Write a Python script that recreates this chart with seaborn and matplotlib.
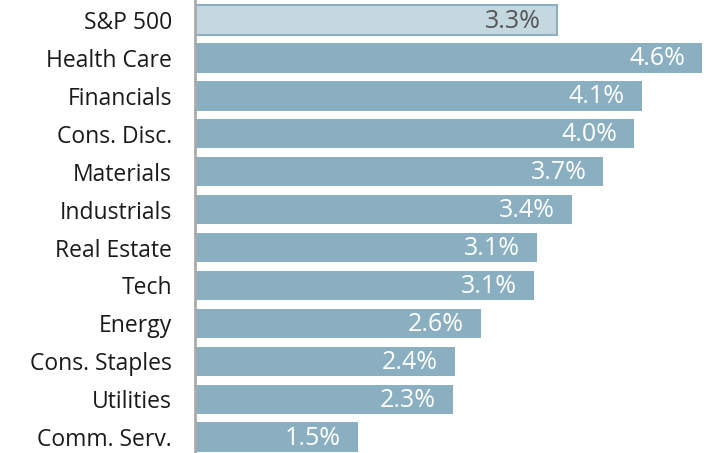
import matplotlib
matplotlib.use("Agg")
import matplotlib.pyplot as plt
import seaborn as sns
import pandas as pd

categories = ["S&P 500", "Health Care", "Financials", "Cons. Disc.", "Materials",
              "Industrials", "Real Estate", "Tech", "Energy", "Cons. Staples",
              "Utilities", "Comm. Serv."]
values = [3.3, 4.62, 4.07, 4.0, 3.72, 3.43, 3.11, 3.09, 2.6, 2.37, 2.35, 1.48]
labels = ["3.3%", "4.6%", "4.1%", "4.0%", "3.7%", "3.4%", "3.1%", "3.1%",
          "2.6%", "2.4%", "2.3%", "1.5%"]

df = pd.DataFrame({"cat": categories, "val": values})

sns.set_theme(style="white")
plt.rcParams['font.family'] = ['Open Sans', 'DejaVu Sans']

fig = plt.figure(figsize=(7.1, 4.53), dpi=100)
ax = fig.add_axes([195/710, 0, 515/710, 1])

bar_color = "#8AAFC1"
light = "#C4D8E0"
palette = [light] + [bar_color] * (len(categories) - 1)
sns.barplot(data=df, y="cat", x="val", hue="cat", palette=palette, legend=False,
            orient="h", width=0.77, ax=ax, saturation=1)
for i, p in enumerate(ax.patches):
    p.set_edgecolor(bar_color)
    p.set_linewidth(1.5 if i == 0 else 0)

for i, (v, lab) in enumerate(zip(values, labels)):
    ax.annotate(lab, xy=(v, i), xytext=(-17, -1), textcoords="offset pixels",
                ha="right", va="center", fontsize=18, fontweight="normal",
                color="#555555" if i == 0 else "white")

ax.set_xlim(0, 4.69)
ax.set_ylim(11.42, -0.53)
ax.set_xlabel("")
ax.set_ylabel("")
ax.set_xticks([])
ax.tick_params(axis="y", length=0, pad=16.5, labelsize=16.5)
for t in ax.get_yticklabels():
    t.set_color("#1a1a1a")
for s in ["top", "right", "bottom"]:
    ax.spines[s].set_visible(False)
ax.spines["left"].set_color("#AAAAAA")
ax.spines["left"].set_linewidth(2)

fig.savefig("out.png", dpi=100)
